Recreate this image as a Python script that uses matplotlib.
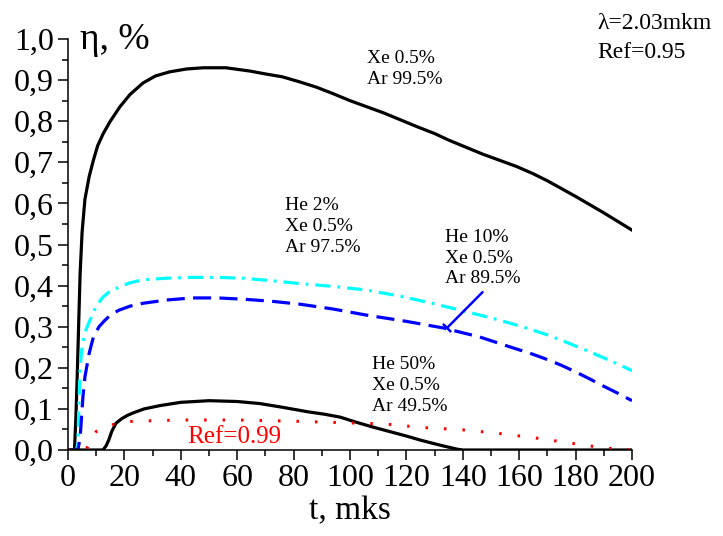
import matplotlib
matplotlib.use("Agg")
import matplotlib.pyplot as plt
from matplotlib.ticker import FuncFormatter, MultipleLocator

# Config
plt.rcParams['font.family'] = ['Liberation Serif', 'DejaVu Serif']
plt.rcParams['lines.scale_dashes'] = False

# Data
# Xe 0.5%, Ar 99.5%  (solid black)
t_xe = [0, 2.3, 2.8, 3.3, 3.8, 4.3, 5, 6, 7.5, 9, 10.5, 12.5, 15, 18.4, 22,
        26.6, 31, 36, 42, 48, 56, 64.5, 70, 76, 82, 88, 94, 100, 106, 112, 118,
        124, 130, 135, 141, 147, 153, 159, 165, 170, 175, 180, 185, 190, 195, 200]
eta_xe = [0, 0, 0.08, 0.187, 0.31, 0.43, 0.53, 0.61, 0.665, 0.705, 0.74, 0.77,
          0.8, 0.835, 0.865, 0.893, 0.91, 0.92, 0.927, 0.93, 0.93, 0.922, 0.915,
          0.908, 0.896, 0.883, 0.867, 0.85, 0.835, 0.82, 0.803, 0.786, 0.77,
          0.754, 0.737, 0.72, 0.705, 0.69, 0.672, 0.655, 0.636, 0.617, 0.597,
          0.577, 0.556, 0.535]

# He 2%, Xe 0.5%, Ar 97.5%  (cyan dash-dot)
t_he2 = [0, 3, 3.5, 3.9, 4.3, 4.8, 5.5, 6.5, 7.8, 10, 12.4, 15, 18.4, 22, 26.6,
         35, 44, 53, 62, 72, 82, 94, 106, 118, 129, 141, 153, 162, 170, 175,
         180, 185, 190, 195, 200]
eta_he2 = [0, 0, 0.017, 0.12, 0.2, 0.24, 0.27, 0.295, 0.316, 0.35, 0.372, 0.387,
           0.397, 0.407, 0.414, 0.418, 0.42, 0.42, 0.418, 0.412, 0.405, 0.398,
           0.389, 0.374, 0.357, 0.337, 0.316, 0.298, 0.28, 0.267, 0.253, 0.239,
           0.224, 0.209, 0.193]

# He 10%, Xe 0.5%, Ar 89.5%  (blue dashed)
t_he10 = [0, 3.5, 4.3, 4.8, 5.3, 6, 7.5, 9, 11, 13, 15, 18, 22, 26.6, 35, 44,
          53, 62, 72, 82, 94, 106, 120, 133, 146, 158, 164, 170, 175, 180, 185,
          190, 195, 200]
eta_he10 = [0, 0, 0.03, 0.08, 0.13, 0.178, 0.235, 0.275, 0.3, 0.315, 0.328,
            0.34, 0.35, 0.357, 0.365, 0.37, 0.37, 0.367, 0.362, 0.355, 0.343,
            0.328, 0.313, 0.297, 0.275, 0.248, 0.235, 0.22, 0.206, 0.19, 0.173,
            0.155, 0.138, 0.12]

# He 50%, Xe 0.5%, Ar 49.5%  (solid black, lower)
t_he50 = [0, 12.4, 13.5, 14.5, 15.5, 17, 19, 21, 23, 27, 32.6, 40, 50, 60, 68,
          76, 85, 91, 96.5, 102, 108, 114, 120, 125, 129.5, 133, 135.5, 138,
          140, 200]
eta_he50 = [0, 0, 0.01, 0.025, 0.045, 0.065, 0.076, 0.084, 0.09, 0.1, 0.108,
            0.116, 0.12, 0.118, 0.113, 0.104, 0.093, 0.087, 0.08, 0.068, 0.056,
            0.045, 0.034, 0.024, 0.016, 0.01, 0.006, 0.002, 0, 0]

# Ref=0.99  (red dotted)
t_ref99 = [0, 5, 7, 10, 16, 23, 40, 60, 80, 100, 113, 125, 140, 152, 165, 178,
           190, 200]
eta_ref99 = [0, 0, 0.007, 0.045, 0.062, 0.07, 0.073, 0.073, 0.07, 0.066, 0.063,
             0.055, 0.049, 0.041, 0.03, 0.017, 0.005, 0]

x_ticks = [0, 20, 40, 60, 80, 100, 120, 140, 160, 180, 200]
y_ticks = [0.0, 0.1, 0.2, 0.3, 0.4, 0.5, 0.6, 0.7, 0.8, 0.9, 1.0]


def y_labels(tick, pos):
    return f"{tick:.1f}".replace('.', ',')


def main():
    W, H = 723, 536
    fig = plt.figure(figsize=(W / 100, H / 100), dpi=100)
    ax = fig.add_axes([68 / W, 1 - 450 / H, (632 - 68) / W, (450 - 39) / H])

    ax.plot(t_xe, eta_xe, color='black', lw=2.3)
    ax.plot(t_he2, eta_he2, color='#00ffff', lw=2.3, dashes=(11, 5, 2, 5))
    ax.plot(t_he10, eta_he10, color='#0000ff', lw=2.3, dashes=(13, 6))
    ax.plot(t_he50, eta_he50, color='black', lw=2.3)
    ax.plot(t_ref99, eta_ref99, color='#ff0000', lw=2.2, dashes=(1.8, 11.5))

    # pointer for the He 10% curve
    ax.annotate('', xy=(134.4, 0.297), xytext=(147, 0.384),
                arrowprops=dict(arrowstyle='-[, widthB=0.35, lengthB=0',
                                color='#0000ff', lw=1.8, shrinkA=0, shrinkB=0))

    # curve labels
    lab = dict(fontsize=14, ha='left', va='center', linespacing=1.3)
    ax.text(106, 0.926, "Xe 0.5%\nAr 99.5%", **lab)
    ax.text(77, 0.543, "He 2%\nXe 0.5%\nAr 97.5%", **lab)
    ax.text(133.7, 0.467, "He 10%\nXe 0.5%\nAr 89.5%", **lab)
    ax.text(107.8, 0.156, "He 50%\nXe 0.5%\nAr 49.5%", **lab)
    ax.text(42.2, 0.032, "Ref=0.99", fontsize=18, color='#ff0000',
            ha='left', va='center')

    fig.text(597 / W, 1 - 38 / H, "\u03bb=2.03mkm\nRef=0.95", fontsize=17,
             ha='left', va='center', linespacing=1.5)

    # axes
    ax.set_xlim(0, 200)
    ax.set_ylim(0, 1.0)
    ax.set_xticks(x_ticks)
    ax.set_yticks(y_ticks)
    ax.xaxis.set_minor_locator(MultipleLocator(10))
    ax.yaxis.set_minor_locator(MultipleLocator(0.05))
    ax.yaxis.set_major_formatter(FuncFormatter(y_labels))
    ax.tick_params(which='major', direction='out', length=7, width=1.1,
                   labelsize=23, pad=3)
    ax.tick_params(which='minor', direction='out', length=4, width=1.1)
    for side in ['top', 'right']:
        ax.spines[side].set_visible(False)
    for side in ['left', 'bottom']:
        ax.spines[side].set_linewidth(1.1)

    fig.text(80 / W, 1 - 49 / H, "\u03b7, %", fontsize=27, ha='left',
             va='baseline')
    ax.set_xlabel("t, mks", fontsize=24, labelpad=2)

    fig.savefig("out.png", dpi=100)


if __name__ == "__main__":
    main()
